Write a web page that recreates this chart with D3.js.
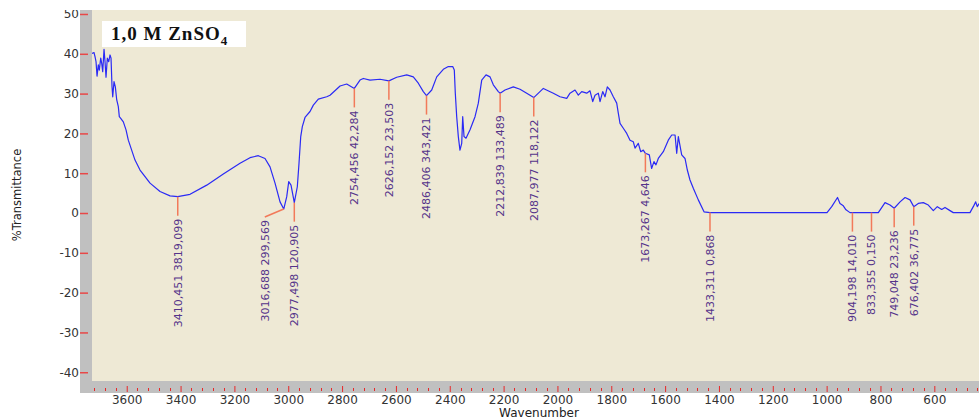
<!DOCTYPE html>
<html>
<head>
<meta charset="utf-8">
<script src="https://cdn.jsdelivr.net/npm/d3@7"></script>
<style>
  html, body { margin: 0; padding: 0; background: #ffffff; }
  svg { display: block; }
</style>
</head>
<body>
<svg id="chart" width="979" height="418"></svg>
<script>
// IR spectrum of the sample, wavenumber (cm-1) vs %T
const wavenumbers = [
  3729, 3721.5, 3717.8, 3714, 3710.3, 3705.5, 3701.8, 3696.6, 3692.9, 3689.2,
  3684.3, 3680.6, 3676.9, 3672.1, 3666.9, 3662, 3658.3, 3654.6, 3652, 3647.2,
  3642.3, 3637.1, 3631.2, 3627.5, 3622.3, 3612.6, 3602.6, 3594.1, 3569.2, 3550.6,
  3513.4, 3476.3, 3439.1, 3410.5, 3364.8, 3302.8, 3241.2, 3179.1, 3142, 3111.1,
  3086.3, 3067.7, 3049.1, 3030.5, 3016.7, 3005.6, 2998.2, 2989.7, 2977.5, 2966.3,
  2960, 2953.6, 2947.7, 2937.7, 2919.1, 2906.8, 2888.3, 2857.1, 2844.8, 2807.6,
  2782.8, 2754.5, 2733.4, 2721.1, 2696.2, 2659.1, 2626.2, 2597, 2559.9, 2535.4,
  2516.8, 2498.2, 2486.4, 2467, 2448.4, 2423.9, 2405.3, 2389, 2383.1, 2379.4,
  2374.2, 2368.2, 2362.1, 2355.6, 2351.9, 2347, 2339.6, 2324.7, 2306.2, 2293.9,
  2281.3, 2265.3, 2250.4, 2238.2, 2219.6, 2212.8, 2194.7, 2163.9, 2139, 2114.1,
  2088, 2052.4, 2015.3, 1990.4, 1965.5, 1953.3, 1934.7, 1922.4, 1909.8, 1891.3,
  1879, 1868.9, 1860.4, 1848.1, 1841.8, 1831.8, 1823.3, 1814.7, 1804.7, 1792.4,
  1779.8, 1773.9, 1767.5, 1755.3, 1742.6, 1730.4, 1718.2, 1711.8, 1699.6, 1690.6,
  1681, 1673.3, 1658.7, 1650.2, 1641.4, 1634, 1625.3, 1606.7, 1588.2, 1575.5,
  1563.1, 1556.9, 1550.9, 1538.4, 1526.1, 1517.5, 1507.6, 1495.3, 1476.7, 1455.5,
  1433.3, 1247.5, 998.6, 981.1, 959.6, 950.4, 938.1, 928.1, 913.3, 904.2,
  833.4, 808, 783.1, 764.5, 749, 727.3, 708.7, 690.2, 676.4, 659.5,
  640.9, 622.3, 603.7, 588.9, 572.5, 560.3, 541.7, 529.5, 467.5, 455.2,
  446.3, 440.4, 434.1, 412
];
const transmittance = [
  40.1, 40.3, 39.3, 38.0, 34.4, 37.2, 35.9, 38.9, 37.6, 35.5,
  41.1, 38.0, 34.1, 38.9, 38.0, 39.7, 38.9, 31.7, 29.2, 33.0,
  31.7, 28.4, 26.7, 24.2, 23.8, 22.9, 20.9, 18.3, 13.3, 10.8,
  7.5, 5.4, 4.3, 4.1, 4.7, 7.0, 9.8, 12.5, 13.9, 14.4,
  13.7, 11.6, 7.5, 2.8, 1.0, 4.1, 7.9, 7.0, 2.6, 6.6,
  12.5, 19.2, 21.7, 24.0, 25.5, 27.1, 28.6, 29.2, 29.6, 31.9,
  32.4, 31.3, 33.4, 33.8, 33.4, 33.6, 33.2, 34.1, 34.7, 34.2,
  32.6, 30.5, 29.5, 30.9, 34.2, 36.1, 36.8, 36.8, 35.9, 30.1,
  24.2, 19.2, 15.8, 17.5, 24.2, 19.2, 18.8, 20.9, 24.2, 27.6,
  33.4, 34.7, 34.2, 32.2, 30.5, 30.1, 30.9, 31.7, 31.1, 30.1,
  29.0, 31.3, 30.1, 29.2, 28.8, 30.1, 30.9, 29.6, 30.5, 30.1,
  30.7, 28.0, 29.6, 30.1, 28.0, 30.5, 29.2, 31.7, 30.9, 29.2,
  27.6, 25.1, 22.5, 21.3, 20.0, 18.3, 17.9, 16.3, 17.5, 15.4,
  15.8, 15.0, 14.6, 11.2, 12.9, 12.1, 13.7, 15.4, 18.3, 19.6,
  19.6, 15.0, 19.2, 14.6, 13.7, 10.8, 8.3, 6.2, 3.3, 0.3,
  0.1, 0.1, 0.1, 1.6, 3.9, 2.4, 1.8, 0.8, 0.1, 0.1,
  0.1, 0.1, 2.6, 2.0, 1.2, 2.8, 3.9, 3.3, 1.6, 2.4,
  2.6, 2.0, 0.6, 1.6, 0.9, 1.4, 0.6, 0.1, 0.1, 1.6,
  2.8, 1.6, 2.3, 1.2
];

// Picked peaks: position (cm-1) and the intensity value printed beside it
const peakWavenumbers = [3410.451, 3016.688, 2977.498, 2754.456, 2626.152, 2486.406, 2212.839,
  2087.977, 1673.267, 1433.311, 904.198, 833.355, 749.048, 676.402];
const peakValues = [3819.099, 299.569, 120.905, 42.284, 23.503, 343.421, 133.489,
  118.122, 4.646, 0.868, 14.010, 0.150, 23.236, 36.775];

const yTickValues = [-40, -30, -20, -10, 0, 10, 20, 30, 40, 50];
const xTickValues = [3600, 3400, 3200, 3000, 2800, 2600, 2400, 2200, 2000, 1800, 1600, 1400, 1200, 1000, 800, 600];
const titleText = "1,0 M ZnSO";
const titleSub = "4";
const xTitle = "Wavenumber";
const yTitle = "%Transmittance";

const svg = d3.select("#chart");
const W = 979, H = 418;
const plot = { left: 92, right: 979, top: 10, bottom: 381 };
const strip = 12;

const x = d3.scaleLinear().domain([3729, 434]).range([plot.left, plot.right]);
const y = d3.scaleLinear().domain([-42.2, 51]).range([plot.bottom, plot.top]);

const fmt3 = d3.format(".3f");
const commaDec = v => fmt3(v).replace(".", ",");
const plainInt = v => String(v);   // ASCII hyphen for negatives

const defs = svg.append("defs");
defs.append("clipPath").attr("id", "plotClip")
  .append("rect").attr("x", plot.left).attr("y", plot.top)
  .attr("width", plot.right - plot.left).attr("height", plot.bottom - plot.top);
defs.append("clipPath").attr("id", "frameClip")
  .append("rect").attr("x", 0).attr("y", plot.top)
  .attr("width", W).attr("height", H - plot.top);

// grey axis strips and beige plotting area
svg.append("rect").attr("x", plot.left - strip).attr("y", plot.top)
  .attr("width", strip).attr("height", plot.bottom - plot.top + strip)
  .attr("fill", "#c0c0c0");
svg.append("rect").attr("x", plot.left - strip).attr("y", plot.bottom)
  .attr("width", plot.right - plot.left + strip).attr("height", strip)
  .attr("fill", "#c0c0c0");
svg.append("rect").attr("x", plot.left).attr("y", plot.top)
  .attr("width", plot.right - plot.left).attr("height", plot.bottom - plot.top)
  .attr("fill", "#eee9d5");

// y axis: red ticks in the strip, labels to the left
const yAxis = d3.axisLeft(y).tickValues(yTickValues).tickSize(0).tickPadding(0)
  .tickFormat(plainInt);
const yG = svg.append("g").attr("clip-path", "url(#frameClip)")
  .append("g").attr("transform", `translate(${plot.left - strip},0)`).call(yAxis);
yG.select(".domain").remove();
yG.selectAll(".tick text")
  .attr("x", -1)
  .attr("font-family", "DejaVu Sans, sans-serif").attr("font-size", 12)
  .attr("fill", "#333");
yG.selectAll(".tick").append("line")
  .attr("x1", 0).attr("x2", 8).attr("stroke", "#e84848").attr("stroke-width", 1.5);

// x axis: major ticks every 200, minor every 40
const minorTicks = d3.range(440, 3729, 40).filter(v => v % 200 !== 0);
const xG = svg.append("g");
xG.selectAll("line.minor").data(minorTicks).join("line")
  .attr("class", "minor")
  .attr("x1", d => Math.round(x(d)) + 0.5).attr("x2", d => Math.round(x(d)) + 0.5)
  .attr("y1", plot.bottom + 7).attr("y2", plot.bottom + 10)
  .attr("stroke", "#e82828").attr("stroke-width", 1);
const xAxis = d3.axisBottom(x).tickValues(xTickValues).tickSize(0).tickPadding(0)
  .tickFormat(plainInt);
const xAxG = xG.append("g").attr("transform", `translate(0,${plot.bottom + strip})`).call(xAxis);
xAxG.select(".domain").remove();
xAxG.selectAll(".tick text")
  .attr("y", 2.5)
  .attr("font-family", "DejaVu Sans, sans-serif").attr("font-size", 12)
  .attr("fill", "#333");
xAxG.selectAll(".tick").append("line")
  .attr("y1", -7).attr("y2", -1).attr("stroke", "#e82828").attr("stroke-width", 1);

// axis titles
svg.append("text")
  .attr("transform", `translate(21,195) rotate(-90)`)
  .attr("text-anchor", "middle")
  .attr("font-family", "DejaVu Sans, sans-serif").attr("font-size", 11.5)
  .attr("fill", "#222").text(yTitle);
svg.append("text")
  .attr("x", 539).attr("y", 417)
  .attr("text-anchor", "middle")
  .attr("font-family", "DejaVu Sans, sans-serif").attr("font-size", 12)
  .attr("fill", "#222").text(xTitle);

// spectrum
const spectrum = wavenumbers.map((w, i) => ({ w, t: transmittance[i] }));
svg.append("path")
  .datum(spectrum)
  .attr("clip-path", "url(#plotClip)")
  .attr("fill", "none").attr("stroke", "#2a2af5").attr("stroke-width", 1.2)
  .attr("stroke-linejoin", "round")
  .attr("d", d3.line().x(d => x(d.w)).y(d => y(d.t)));

// value of the trace at a given wavenumber (linear between neighbours)
function traceAt(w) {
  for (let i = 0; i < spectrum.length - 1; i++) {
    const a = spectrum[i], b = spectrum[i + 1];
    if ((w <= a.w && w >= b.w)) {
      const f = (a.w - w) / (a.w - b.w);
      return a.t + f * (b.t - a.t);
    }
  }
  return 0;
}

// peak markers: leader line from the trace, rotated label below it
const peaks = peakWavenumbers.map((w, i) => ({
  w, v: peakValues[i], px: x(w), py: y(traceAt(w))
}));
for (let i = peaks.length - 1; i >= 0; i--) {
  const p = peaks[i];
  p.lx = p.px;
  p.shifted = false;
  if (i < peaks.length - 1 && peaks[i + 1].lx - p.lx < 15) {
    p.lx = peaks[i + 1].lx - 29.5;
    p.shifted = true;
  }
  p.ly = p.py + (p.shifted ? 8 : 19);
}
const pg = svg.append("g");
pg.selectAll("line").data(peaks).join("line")
  .attr("x1", d => d.px).attr("y1", d => d.py)
  .attr("x2", d => d.lx).attr("y2", d => d.ly)
  .attr("stroke", "#f27a5a").attr("stroke-width", 1.5);
pg.selectAll("text").data(peaks).join("text")
  .attr("transform", d => `translate(${d.lx},${d.ly + 3}) rotate(-90)`)
  .attr("text-anchor", "end").attr("dy", "0.36em")
  .attr("font-family", "DejaVu Sans, sans-serif").attr("font-size", 11)
  .attr("fill", "#55348a")
  .text(d => `${commaDec(d.w)} ${commaDec(d.v)}`);

// sample title box
const tg = svg.append("g");
tg.append("rect").attr("x", 102).attr("y", 21).attr("width", 144).attr("height", 26)
  .attr("fill", "#ffffff");
const tt = tg.append("text").attr("x", 111).attr("y", 39.5)
  .attr("font-family", "Liberation Serif, Times New Roman, serif")
  .attr("font-weight", "bold").attr("font-size", 19).attr("letter-spacing", 1)
  .attr("fill", "#111");
tt.append("tspan").text(titleText);
tt.append("tspan").attr("font-size", 13).attr("dy", 5).text(titleSub);
</script>
</body>
</html>
